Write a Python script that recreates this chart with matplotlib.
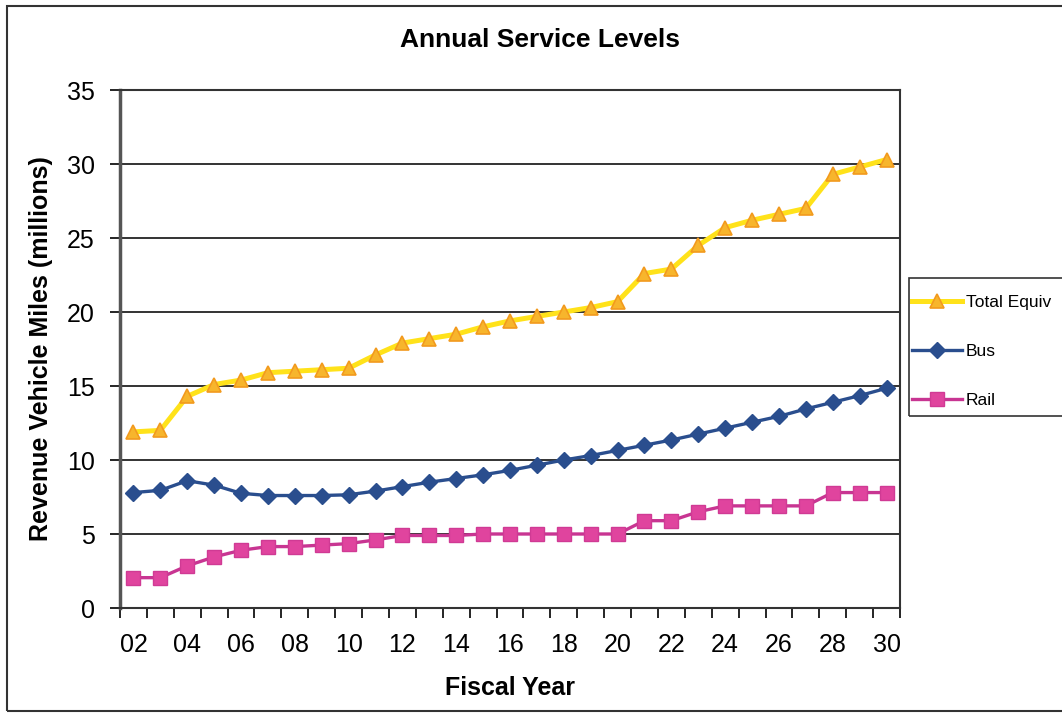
import matplotlib
matplotlib.use("Agg")
import matplotlib.pyplot as plt
from matplotlib.patches import Rectangle
import numpy as np

plt.rcParams['font.family'] = ['Liberation Sans', 'DejaVu Sans']

# fiscal years 2002 - 2030
years = ["02", "03", "04", "05", "06", "07", "08", "09", "10", "11",
         "12", "13", "14", "15", "16", "17", "18", "19", "20", "21",
         "22", "23", "24", "25", "26", "27", "28", "29", "30"]

total_equiv = [11.9, 12.0, 14.3, 15.1, 15.4, 15.9, 16.0, 16.1, 16.2, 17.1,
               17.9, 18.2, 18.5, 19.0, 19.4, 19.7, 20.0, 20.3, 20.7, 22.6,
               22.9, 24.5, 25.7, 26.2, 26.6, 27.0, 29.3, 29.8, 30.3]
bus = [7.8, 7.95, 8.6, 8.3, 7.75, 7.6, 7.6, 7.6, 7.65, 7.9,
       8.2, 8.5, 8.75, 9.0, 9.3, 9.65, 10.0, 10.3, 10.65, 11.0,
       11.35, 11.75, 12.15, 12.55, 12.95, 13.45, 13.9, 14.35, 14.85]
rail = [2.05, 2.05, 2.85, 3.45, 3.9, 4.15, 4.15, 4.25, 4.35, 4.6,
        4.9, 4.9, 4.9, 5.0, 5.0, 5.0, 5.0, 5.0, 5.0, 5.9,
        5.9, 6.5, 6.9, 6.9, 6.9, 6.9, 7.8, 7.8, 7.8]

W, H = 1062, 714
fig = plt.figure(figsize=(W / 100, H / 100), dpi=100)
ax = fig.add_axes([120 / W, 1 - 608 / H, 780 / W, 518 / H])

x = np.arange(len(years))
ax.plot(x, total_equiv, color="#FFE21A", lw=3.6, marker="^", ms=10,
        mfc="#F7B52C", mec="#F29A1E", mew=1.2, label="Total Equiv", zorder=3)
ax.plot(x, bus, color="#2A4E8E", lw=2.4, marker="D", ms=8.5,
        mfc="#2A4E8E", mec="#2A4E8E", label="Bus", zorder=3)
ax.plot(x, rail, color="#C83592", lw=2.4, marker="s", ms=9.5,
        mfc="#E0449E", mec="#D03A94", label="Rail", zorder=3)

ax.set_xlim(-0.5, len(years) - 0.5)
ax.set_ylim(0, 35)
ax.set_yticks(np.arange(0, 36, 5))
ax.yaxis.grid(True, color="#111111", lw=1.2)
ax.set_axisbelow(True)

# category tick marks between years, labels on every other year
ax.set_xticks(x[::2])
ax.set_xticklabels(years[::2])
ax.set_xticks(np.arange(-0.5, len(years), 1.0), minor=True)
ax.tick_params(axis="x", which="major", length=0, labelsize=18, pad=18)
ax.tick_params(axis="x", which="minor", length=7, width=1.2, direction="out")
ax.tick_params(axis="y", length=7, width=1.2, labelsize=18, pad=11)

for side in ["top", "right", "bottom"]:
    ax.spines[side].set_color("#333333")
    ax.spines[side].set_linewidth(1.5)
ax.spines["left"].set_color("#555555")
ax.spines["left"].set_linewidth(2.5)

ax.set_ylabel("Revenue Vehicle Miles (millions)", fontsize=18,
              fontweight="bold", labelpad=10)
ax.set_xlabel("Fiscal Year", fontsize=18, fontweight="bold", labelpad=14)
fig.text(540 / W, 1 - 40 / H, "Annual Service Levels", ha="center",
         va="center", fontsize=19, fontweight="bold")

# legend entries without their own frame; the box runs off the right edge
leg = fig.legend(loc="upper left", bbox_to_anchor=(912 / W, 1 - 295 / H),
                 fontsize=12.5, frameon=False, handlelength=2.9,
                 labelspacing=1.95, borderpad=0, handletextpad=0.2,
                 borderaxespad=0)
fig.patches.append(Rectangle((909 / W, 1 - 416 / H), 200 / W, 138 / H,
                             transform=fig.transFigure, fill=False,
                             edgecolor="#333333", lw=1.2))

# outer chart border
fig.patches.append(Rectangle((7 / W, 3 / H), (W + 20) / W, 705 / H,
                             transform=fig.transFigure, fill=False,
                             edgecolor="#333333", lw=1.5))

fig.savefig("out.png", dpi=100)
